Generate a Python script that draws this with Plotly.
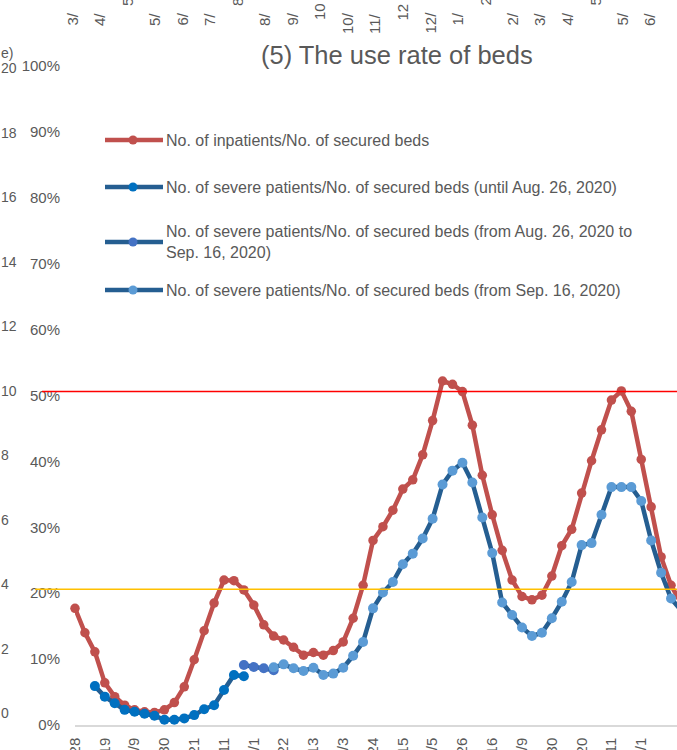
import plotly.graph_objects as go
import pandas as pd

# ---------------- data ----------------
weeks = pd.date_range("2020-04-28", periods=62, freq="7D")

inpatient_rate = [17.7, 14.0, 11.1, 6.4, 4.3, 3.0, 2.3, 2.0, 1.9, 2.3,
                  3.4, 5.8, 9.9, 14.3, 18.5, 22.0, 21.9, 20.5, 18.2, 15.2,
                  13.5, 12.9, 11.8, 10.6, 11.0, 10.6, 11.3, 12.6, 16.2, 21.2,
                  28.0, 30.1, 32.6, 35.8, 37.2, 41.0, 46.2, 52.2, 51.7, 50.6,
                  45.5, 37.9, 31.9, 26.5, 22.0, 19.5, 19.0, 19.7, 22.6, 27.2,
                  29.7, 35.2, 40.1, 44.8, 49.3, 50.7, 47.6, 40.3, 33.1, 25.5,
                  21.2, 18.5]

severe_until_aug26 = [5.9, 4.3, 3.3, 2.3, 2.0, 1.7, 1.4, 0.8, 0.8, 1.0,
                      1.5, 2.4, 3.0, 5.3, 7.6, 7.4]
severe_aug26_sep16 = [9.1, 8.8, 8.6, 8.3]
severe_from_sep16 = [8.75, 9.2, 8.6, 8.2, 8.7, 7.6, 7.8, 8.7, 10.5, 12.6,
                     17.7, 20.1, 21.7, 24.4, 26.0, 28.3, 31.3, 36.5, 38.6, 39.8,
                     36.8, 31.5, 26.1, 18.6, 16.7, 14.8, 13.5, 14.0, 16.2, 18.7,
                     21.7, 27.3, 27.6, 31.9, 36.1, 36.1, 36.1, 34.0, 28.0, 23.1,
                     19.2, 17.4]

dates_inpatient = weeks[:62]
dates_sev1 = weeks[2:18]
dates_sev2 = weeks[17:21]
dates_sev3 = weeks[20:62]

tick_dates = weeks[::3]
tick_labels = ["4/28", "5/19", "6/9", "6/30", "7/21", "8/11", "9/1", "9/22",
               "10/13", "11/3", "11/24", "12/15", "1/5", "1/26", "2/16", "3/9",
               "3/30", "4/20", "5/11", "6/1", "6/22"]

threshold_red = 50.6
threshold_yellow = 20.6

legend_names = [
    "No. of inpatients/No. of secured beds",
    "No. of severe patients/No. of secured beds (until Aug. 26, 2020)",
    "No. of severe patients/No. of secured beds (from Aug. 26, 2020 to<br>Sep. 16, 2020)",
    "No. of severe patients/No. of secured beds (from Sep. 16, 2020)",
]

left_chart_labels = ["20", "18", "16", "14", "12", "10", "8", "6", "4", "2", "0"]
top_chart_labels = ["3/", "4/", "5", "5/", "6/", "7/", "8", "8/", "9/", "10", "10/",
                    "11/", "12", "12/", "1/", "2", "2/", "3/", "4/", "5", "5/", "6/"]

# ---------------- styles ----------------
RED = "#C0504D"
DARK = "#255E91"
M1 = "#0070C0"
M2 = "#4472C4"
M3 = "#5B9BD5"
GRAY = "#595959"
FONT = "Liberation Sans, Arial, sans-serif"

W, H = 677, 750
L, R, T, B = 75, 0, 66, 25
PW, PH = W - L - R, H - T - B


def px(x):
    return (x - L) / PW


def py(y):
    return (H - B - y) / PH


fig = go.Figure()

fig.add_trace(go.Scatter(x=dates_inpatient, y=inpatient_rate, mode="lines+markers",
                         line=dict(color=RED, width=4.5),
                         marker=dict(color=RED, size=9.5), cliponaxis=False,
                         name=legend_names[0], showlegend=False))
fig.add_trace(go.Scatter(x=dates_sev1, y=severe_until_aug26, mode="lines+markers",
                         line=dict(color=DARK, width=4.5),
                         marker=dict(color=M1, size=10), cliponaxis=False,
                         name=legend_names[1], showlegend=False))
fig.add_trace(go.Scatter(x=dates_sev2, y=severe_aug26_sep16, mode="lines+markers",
                         line=dict(color=DARK, width=4.5),
                         marker=dict(color=M2, size=10), cliponaxis=False,
                         name=legend_names[2], showlegend=False))
fig.add_trace(go.Scatter(x=dates_sev3, y=severe_from_sep16, mode="lines+markers",
                         line=dict(color=DARK, width=4.5),
                         marker=dict(color=M3, size=10), cliponaxis=False,
                         name=legend_names[3], showlegend=False))

x_end = weeks[0] + pd.Timedelta(days=7 * 60.6)

fig.update_layout(
    width=W, height=H,
    margin=dict(l=L, r=R, t=T, b=B, autoexpand=False),
    paper_bgcolor="white", plot_bgcolor="white",
    font=dict(family=FONT, color=GRAY, size=15),
    xaxis=dict(type="date", range=[weeks[0], x_end], showgrid=False, zeroline=False,
               showline=True, linecolor="#D9D9D9", linewidth=1.5, automargin=False,
               tickmode="array", tickvals=list(tick_dates), ticktext=tick_labels,
               tickangle=-90, tickfont=dict(size=15, color=GRAY), ticks="",
               ticklabelstandoff=5),
    yaxis=dict(range=[0, 100], showgrid=False, zeroline=False, showline=False,
               automargin=False,
               tickmode="array", tickvals=list(range(0, 101, 10)),
               ticktext=[f"{v}%" for v in range(0, 101, 10)],
               tickfont=dict(size=15, color=GRAY), ticklabelstandoff=14),
    showlegend=False,
)

shapes = []
annotations = []

# threshold lines
shapes.append(dict(type="line", xref="paper", yref="y", x0=px(42), x1=1,
                   y0=threshold_red, y1=threshold_red,
                   line=dict(color="#FF0000", width=1.5), layer="above"))
shapes.append(dict(type="line", xref="paper", yref="y", x0=px(35), x1=1,
                   y0=threshold_yellow, y1=threshold_yellow,
                   line=dict(color="#FFC000", width=1.5), layer="above"))

# title
annotations.append(dict(text="(5) The use rate of beds", xref="paper", yref="paper",
                        x=px(397), y=py(55), xanchor="center", yanchor="middle",
                        showarrow=False, font=dict(size=25.5, color=GRAY, family=FONT)))

# custom legend
leg_y = [140, 187, 242, 290]
leg_marker = [RED, M1, M2, M3]
leg_line = [RED, DARK, DARK, DARK]
for name, yy, mc, lc in zip(legend_names, leg_y, leg_marker, leg_line):
    shapes.append(dict(type="line", xref="paper", yref="paper", x0=px(105), x1=px(163),
                       y0=py(yy), y1=py(yy), line=dict(color=lc, width=4.5)))
    r = 4.5
    shapes.append(dict(type="circle", xref="paper", yref="paper",
                       x0=px(133 - r), x1=px(133 + r), y0=py(yy + r), y1=py(yy - r),
                       fillcolor=mc, line=dict(width=0)))
    annotations.append(dict(text=name, xref="paper", yref="paper", x=px(164), y=py(yy),
                            xanchor="left", yanchor="middle", align="left",
                            showarrow=False, font=dict(size=16, color=GRAY, family=FONT)))

# fragments of neighbouring charts (cropped)
for i, lab in enumerate(left_chart_labels):
    yy = 68 + i * 64.5
    annotations.append(dict(text=lab, xref="paper", yref="paper", x=px(-1), y=py(yy),
                            xanchor="left", yanchor="middle", showarrow=False,
                            font=dict(size=14, color=GRAY, family=FONT)))
annotations.append(dict(text="e)", xref="paper", yref="paper", x=px(-1), y=py(53),
                        xanchor="left", yanchor="middle", showarrow=False,
                        font=dict(size=14, color=GRAY, family=FONT)))

for i, lab in enumerate(top_chart_labels):
    xx = 72 + i * 27.5
    bottom = 36 if len(lab) == 3 else (28 if lab.endswith("/") else (22 if len(lab) == 2 else 8))
    annotations.append(dict(text=lab, xref="paper", yref="paper", x=px(xx), y=py(bottom),
                            xanchor="center", yanchor="bottom", textangle=-90,
                            showarrow=False, font=dict(size=15, color=GRAY, family=FONT)))

fig.update_layout(shapes=shapes, annotations=annotations)

fig.write_html("out.html", config={"displayModeBar": False},
               post_script="document.body.style.margin='0';document.body.style.overflow='hidden';")
